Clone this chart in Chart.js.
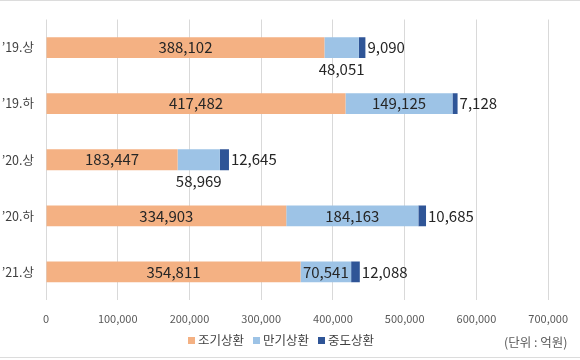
<!DOCTYPE html>
<html><head><meta charset="utf-8">
<script src="https://cdn.jsdelivr.net/npm/chart.js@4"></script>
<style>
html,body{margin:0;padding:0;background:#fff;}
#wrap{position:relative;width:580px;height:360px;overflow:hidden;font-family:"Noto Sans CJK KR","Noto Sans",sans-serif;}
#c{position:absolute;left:0;top:0;}
.line{position:absolute;left:0;width:580px;height:1px;background:#dcdcdc;}
#legend{position:absolute;top:330px;left:188px;font-size:12.5px;color:#404040;white-space:nowrap;}
#legend span.item{display:inline-block;margin-right:9px;}
#legend i{display:inline-block;width:7px;height:7px;margin-right:3px;vertical-align:1px;}
#unit{position:absolute;left:504px;top:332px;font-size:12.5px;color:#595959;white-space:nowrap;}
</style></head>
<body>
<div id="wrap">
<canvas id="c" width="580" height="360"></canvas>
<div class="line" style="top:0"></div>
<div class="line" style="top:357px"></div>
<div id="legend"></div>
<div id="unit">(단위 : 억원)</div>
</div>
<script>
const categories = ["’19.상", "’19.하", "’20.상", "’20.하", "’21.상"];
const seriesNames = ["조기상환", "만기상환", "중도상환"];
const early = [388102, 417482, 183447, 334903, 354811];
const maturity = [48051, 149125, 58969, 184163, 70541];
const midway = [9090, 7128, 12645, 10685, 12088];
const xTicks = [0, 100000, 200000, 300000, 400000, 500000, 600000, 700000];
const colors = ["#F4B183", "#9DC3E6", "#2F5597"];

const fmt = v => v.toLocaleString("en-US");

const leg = document.getElementById("legend");
seriesNames.forEach((n, i) => {
  const s = document.createElement("span");
  s.className = "item";
  s.innerHTML = '<i style="background:' + colors[i] + '"></i>' + n;
  leg.appendChild(s);
});

const labelFont = '15px "Noto Sans CJK KR", "Noto Sans", sans-serif';
const labelPlugin = {
  id: "vals",
  afterDatasetsDraw(chart) {
    const ctx = chart.ctx;
    ctx.save();
    ctx.font = labelFont;
    ctx.fillStyle = "#262626";
    chart.data.datasets.forEach((ds, di) => {
      const meta = chart.getDatasetMeta(di);
      meta.data.forEach((bar, i) => {
        const txt = fmt(ds.data[i]);
        const left = Math.min(bar.x, bar.base), right = Math.max(bar.x, bar.base);
        const w = right - left;
        const tw = ctx.measureText(txt).width;
        const cx = (left + right) / 2;
        ctx.textBaseline = "middle";
        if (di === 2) {
          ctx.textAlign = "left";
          ctx.fillText(txt, right + 2, bar.y);
        } else if (tw + 4 <= w) {
          ctx.textAlign = "center";
          ctx.fillText(txt, cx, bar.y);
        } else {
          ctx.textAlign = "center";
          ctx.fillText(txt, cx, bar.y + bar.height / 2 + 11);
        }
      });
    });
    ctx.restore();
  }
};

new Chart(document.getElementById("c"), {
  type: "bar",
  data: {
    labels: categories,
    datasets: [
      { label: seriesNames[0], data: early, backgroundColor: colors[0] },
      { label: seriesNames[1], data: maturity, backgroundColor: colors[1] },
      { label: seriesNames[2], data: midway, backgroundColor: colors[2] }
    ]
  },
  options: {
    indexAxis: "y",
    responsive: false,
    animation: false,
    layout: { padding: { top: 14, right: 31, bottom: 0, left: 0 } },
    datasets: { bar: { categoryPercentage: 1, barPercentage: 0.37 } },
    plugins: { legend: { display: false }, tooltip: { enabled: false } },
    scales: {
      x: {
        stacked: true,
        min: 0, max: 700000,
        afterBuildTicks(s) { s.ticks = xTicks.map(v => ({ value: v })); },
        afterFit(s) { s.height = 60; },
        grid: { color: "#d9d9d9", drawTicks: false },
        border: { display: false },
        ticks: {
          padding: 12,
          color: "#595959",
          font: { size: 11, family: '"Noto Sans CJK KR", "Noto Sans", sans-serif' },
          callback: v => fmt(v)
        }
      },
      y: {
        stacked: true,
        afterFit(s) { s.width = 46; },
        grid: { display: false, drawTicks: false },
        border: { display: false },
        ticks: {
          padding: 12,
          color: "#404040",
          font: { size: 12.5, family: '"Noto Sans CJK KR", "Noto Sans", sans-serif' }
        }
      }
    }
  },
  plugins: [labelPlugin]
});
</script>
</body></html>
